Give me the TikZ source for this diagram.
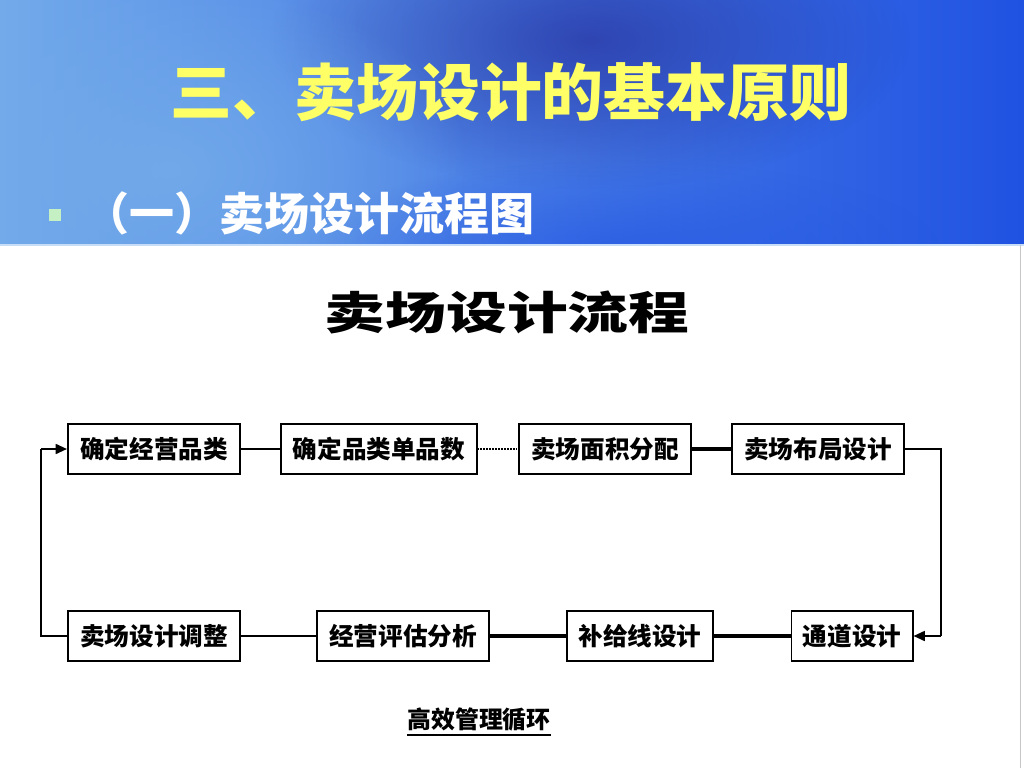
\documentclass[tikz,border=0pt]{standalone}
\usepackage{fontspec}
\newfontfamily\cjk{Noto Sans CJK SC}
\usetikzlibrary{arrows.meta, positioning, fadings}
\definecolor{bannerL}{HTML}{72AAEA}
\definecolor{bannerM}{HTML}{2C42B2}
\definecolor{bannerR}{HTML}{2052E2}
\definecolor{bannerD}{HTML}{26309C}
\definecolor{titleyellow}{HTML}{FFFF66}
\definecolor{bulletgreen}{HTML}{C4F0C4}
\tikzfading[name=spotfade, inner color=transparent!0, outer color=transparent!100]

\begin{document}
\begin{tikzpicture}[x=0.025cm,y=-0.025cm,
	every node/.style={font=\cjk},
	flowbox/.style={draw, line width=1.4pt, minimum height=1.25cm, inner sep=0pt, font=\cjk\bfseries\fontsize{17.5}{20}\selectfont},
	thin link/.style={line width=1.1pt},
	thick link/.style={line width=2.4pt},
	dot link/.style={line width=1.1pt, densely dotted},
	back arrow/.style={line width=1.4pt, -{Triangle[length=8pt,width=7pt]}}]
	\useasboundingbox (0,0) rectangle (1024,768);
	\fill[white] (0,0) rectangle (1024,768);
	% banner
	\begin{scope}
		\clip (0,0) rectangle (1024,245);
		\shade[left color=bannerL, middle color=bannerM, right color=bannerR] (0,0) rectangle (1024,245);
		\fill[bannerD, path fading=spotfade, opacity=.7] (590,40) ellipse (320 and 150);
		\fill[bannerL, path fading=spotfade, opacity=.9] (170,170) ellipse (300 and 190);
		\fill[bannerR, path fading=spotfade, opacity=.6] (620,250) ellipse (320 and 90);
	\end{scope}
	\draw[white!60!bannerL, line width=1pt] (0,245) -- (1024,245);
	\draw[gray!45] (1020,245) -- (1020,768);
	\node[text=titleyellow, font=\cjk\bfseries\fontsize{44}{48}\selectfont] (title) at (511,92) {三、卖场设计的基本原则};
	\node[fill=bulletgreen, minimum size=0.3cm, inner sep=0pt] (bullet) at (55,215) {};
	\node[anchor=west, text=white, font=\cjk\bfseries\fontsize{32}{36}\selectfont] (subtitle) at (80,213) {（一）卖场设计流程图};
	% flow chart
	\node[font=\cjk\bfseries\fontsize{32}{36}\selectfont, xscale=1.35] (heading) at (507,312) {卖场设计流程};
	\node[flowbox, minimum width=4.3cm] (fix) at (154,449) {确定经营品类};
	\node[flowbox, minimum width=4.875cm] (count) at (379,449) {确定品类单品数};
	\node[flowbox, minimum width=4.3cm] (area) at (605,449) {卖场面积分配};
	\node[flowbox, minimum width=4.3cm] (layout) at (818,449) {卖场布局设计};
	\node[flowbox, minimum width=4.275cm] (adjust) at (154,636) {卖场设计调整};
	\node[flowbox, minimum width=4.3cm] (review) at (403,636) {经营评估分析};
	\node[flowbox, minimum width=3.65cm] (supply) at (640,636) {补给线设计};
	\node[flowbox, minimum width=3.025cm] (aisle) at (852,636) {通道设计};
	\coordinate (loopNE) at (941,449);
	\coordinate (loopSE) at (941,636);
	\coordinate (loopSW) at (41,636);
	\coordinate (loopNW) at (41,449);
	\draw[thin link] (fix) -- (count);
	\draw[dot link] (count) -- (area);
	\draw[thick link] (area) -- (layout);
	\draw[thin link] (layout.east) -- (loopNE) -- (loopSE);
	\draw[back arrow] (loopSE) -- (aisle.east);
	\draw[thick link] (aisle) -- (supply);
	\draw[thick link] (supply) -- (review);
	\draw[thin link] (review) -- (adjust);
	\draw[thin link] (adjust.west) -- (loopSW) -- (loopNW);
	\draw[back arrow] (loopNW) -- (fix.west);
	\node[font=\cjk\bfseries\fontsize{17}{20}\selectfont, inner sep=0pt] (cycle) at (479,720) {高效管理循环};
	\draw[line width=1.2pt] ([yshift=-2pt]cycle.south west) -- ([yshift=-2pt]cycle.south east);
\end{tikzpicture}
\end{document}
